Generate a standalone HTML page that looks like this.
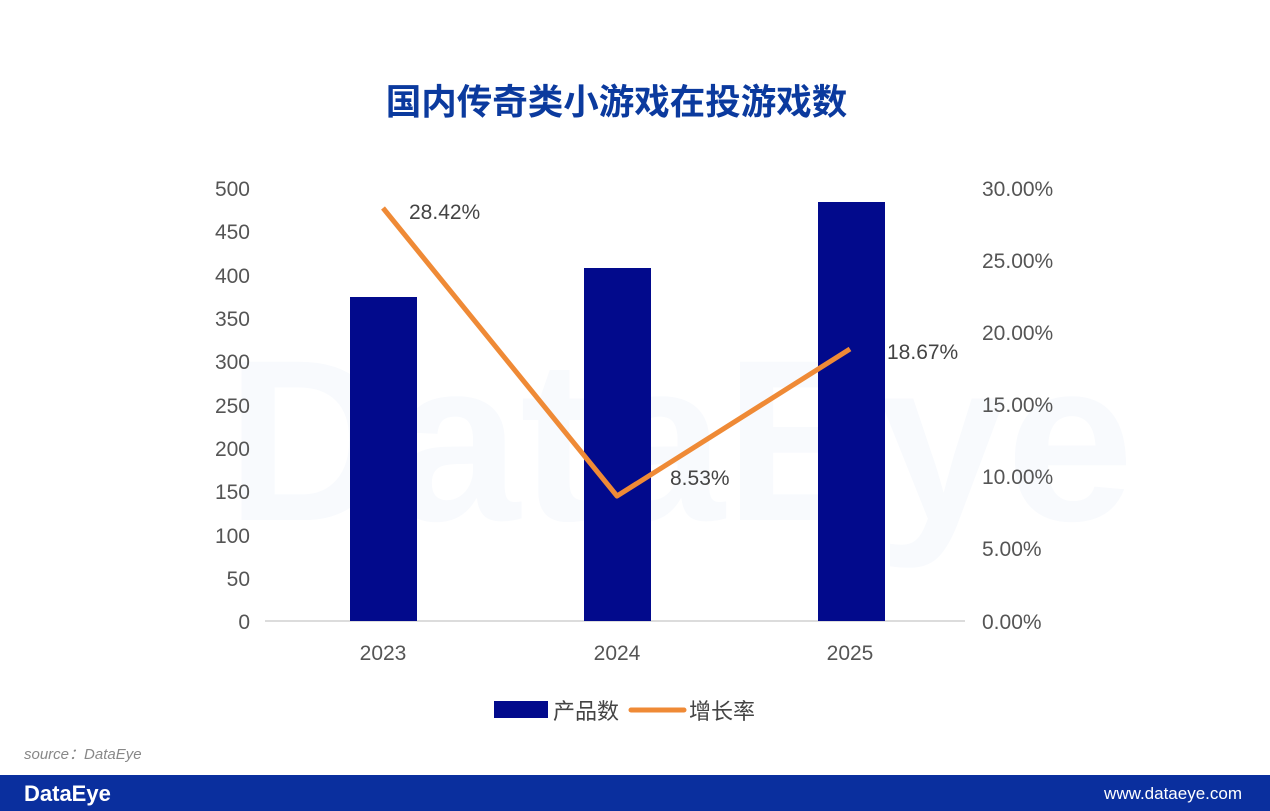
<!DOCTYPE html>
<html><head><meta charset="utf-8"><style>
body{margin:0;width:1270px;height:811px;background:#fff;position:relative;overflow:hidden;font-family:"Liberation Sans","Noto Sans CJK SC",sans-serif}
.t{position:absolute;white-space:nowrap}
</style></head><body>
<div class="t" style="left:0;width:1233px;top:74px;text-align:center;font-size:35.5px;font-weight:bold;color:#0b3a9e;font-family:'Noto Sans CJK SC',sans-serif">国内传奇类小游戏在投游戏数</div>
<svg width="1270" height="811" style="position:absolute;left:0;top:0">
<text x="680" y="520" font-size="230" font-weight="bold" fill="#f8fafd" text-anchor="middle" font-family="Liberation Sans">DataEye</text>
<line x1="265" y1="621" x2="965" y2="621" stroke="#d0d0d0" stroke-width="1.5"/>
<rect x="350" y="297" width="67" height="324" fill="#020a8c"/>
<rect x="584" y="268" width="67" height="353" fill="#020a8c"/>
<rect x="818" y="202" width="67" height="419" fill="#020a8c"/>
<polyline points="383,208 617,496 850,349" fill="none" stroke="#ef8a36" stroke-width="5" stroke-linejoin="round"/>
<g font-size="21" fill="#555" text-anchor="end" font-family="Liberation Sans">
<text x="250" y="196">500</text><text x="250" y="239">450</text><text x="250" y="283">400</text><text x="250" y="326">350</text><text x="250" y="369">300</text><text x="250" y="413">250</text><text x="250" y="456">200</text><text x="250" y="499">150</text><text x="250" y="543">100</text><text x="250" y="586">50</text><text x="250" y="629">0</text>
</g>
<g font-size="21" fill="#555" font-family="Liberation Sans">
<text x="982" y="196">30.00%</text><text x="982" y="268">25.00%</text><text x="982" y="340">20.00%</text><text x="982" y="412">15.00%</text><text x="982" y="484">10.00%</text><text x="982" y="556">5.00%</text><text x="982" y="629">0.00%</text>
</g>
<g font-size="21" fill="#555" text-anchor="middle" font-family="Liberation Sans">
<text x="383" y="660">2023</text><text x="617" y="660">2024</text><text x="850" y="660">2025</text>
</g>
<g font-size="21" fill="#444" font-family="Liberation Sans">
<text x="409" y="219">28.42%</text><text x="670" y="485">8.53%</text><text x="887" y="359">18.67%</text>
</g>
<rect x="494" y="701" width="54" height="17" fill="#020a8c"/>
<line x1="631" y1="710" x2="684" y2="710" stroke="#ef8a36" stroke-width="5" stroke-linecap="round"/>
<text x="553" y="719" font-size="22" fill="#444" font-family="Noto Sans CJK SC">产品数</text>
<text x="689" y="719" font-size="22" fill="#444" font-family="Noto Sans CJK SC">增长率</text>
<text x="24" y="759" font-size="15" fill="#888" font-style="italic" font-family="Liberation Sans">source：DataEye</text>
<rect x="0" y="775" width="1270" height="36" fill="#0a2f9e"/>
<text x="24" y="801" font-size="22" font-weight="bold" fill="#fff" font-family="Liberation Sans">DataEye</text>
<text x="1242" y="799" font-size="17" fill="#fff" text-anchor="end" font-family="Liberation Sans">www.dataeye.com</text>
</svg>
</body></html>
